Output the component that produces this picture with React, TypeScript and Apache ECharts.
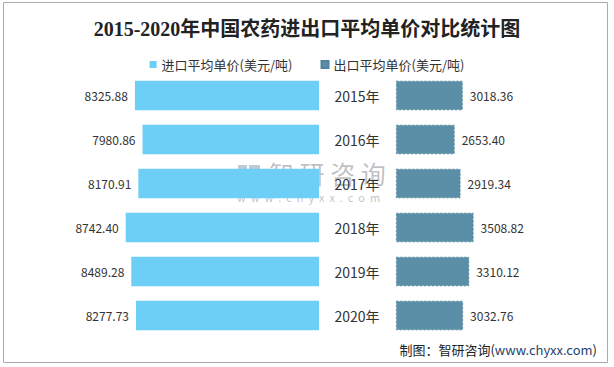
import React, { useEffect, useRef } from "react";
import * as echarts from "echarts";

const years = ["2015年", "2016年", "2017年", "2018年", "2019年", "2020年"];
const importPrice = [8325.88, 7980.86, 8170.91, 8742.4, 8489.28, 8277.73];
const exportPrice = [3018.36, 2653.4, 2919.34, 3508.82, 3310.12, 3032.76];
const seriesNames = ["进口平均单价(美元/吨)", "出口平均单价(美元/吨)"];

export default function App() {
  const ref = useRef<HTMLDivElement>(null);
  useEffect(() => {
    document.body.style.margin = "0";
    const chart = echarts.init(ref.current!, null, { renderer: "svg" });
    const sans = "'Noto Sans CJK SC', 'Open Sans', sans-serif";
    const gridTop = 73.5;
    const gridH = 264;
    const wm = "rgba(110,115,125,0.45)";
    chart.setOption({
      animation: false,
      backgroundColor: "#fff",
      title: {
        text: "2015-2020年中国农药进出口平均单价对比统计图",
        left: "center",
        top: 14,
        textStyle: {
          fontFamily: "'Liberation Serif', 'Noto Sans CJK SC', serif",
          fontSize: 20,
          fontWeight: "bold",
          color: "#222",
        },
      },
      legend: {
        top: 53,
        left: "center",
        itemWidth: 7,
        itemHeight: 7,
        itemGap: 28,
        icon: "rect",
        textStyle: { fontFamily: sans, fontSize: 13, color: "#333" },
        data: seriesNames,
      },
      grid: [
        { left: 120, top: gridTop, width: 199, height: gridH },
        { left: 396, top: gridTop, width: 199, height: gridH },
      ],
      xAxis: [
        { type: "value", gridIndex: 0, min: 0, max: 9000, inverse: true, show: false },
        { type: "value", gridIndex: 1, min: 0, max: 9000, show: false },
      ],
      yAxis: [
        {
          type: "category",
          gridIndex: 0,
          data: years,
          inverse: true,
          position: "right",
          axisLine: { show: false },
          axisTick: { show: false },
          axisLabel: {
            margin: 38,
            align: "center",
            fontFamily: sans,
            fontSize: 14,
            color: "#333",
          },
        },
        {
          type: "category",
          gridIndex: 1,
          data: years,
          inverse: true,
          axisLine: { show: false },
          axisTick: { show: false },
          axisLabel: { show: false },
        },
      ],
      series: [
        {
          name: seriesNames[0],
          type: "bar",
          xAxisIndex: 0,
          yAxisIndex: 0,
          data: importPrice,
          barWidth: 29.5,
          itemStyle: { color: "#6dcff6" },
          label: {
            show: true,
            position: "left",
            distance: 7,
            formatter: (p: any) => p.value.toFixed(2),
            fontFamily: sans,
            fontSize: 12,
            color: "#333",
          },
        },
        {
          name: seriesNames[1],
          type: "bar",
          xAxisIndex: 1,
          yAxisIndex: 1,
          data: exportPrice,
          barWidth: 29.5,
          itemStyle: {
            color: "#5b8fa8",
            borderColor: "#52849c",
            borderWidth: 0.8,
            borderType: [2, 2],
          },
          label: {
            show: true,
            position: "right",
            distance: 7,
            formatter: (p: any) => p.value.toFixed(2),
            fontFamily: sans,
            fontSize: 12,
            color: "#333",
          },
        },
      ],
      graphic: [
        {
          type: "rect",
          shape: { x: 3.5, y: 2.5, width: 604, height: 360 },
          style: { fill: "none", stroke: "#aaa", lineWidth: 1 },
          silent: true,
        },
        {
          type: "group",
          z: 100,
          silent: true,
          children: [
            { type: "rect", shape: { x: 238, y: 165, width: 9, height: 13 }, style: { fill: "rgba(110,135,170,0.45)" } },
            { type: "rect", shape: { x: 249, y: 165, width: 11, height: 6 }, style: { fill: "rgba(110,135,170,0.45)" } },
            { type: "rect", shape: { x: 253, y: 173, width: 7, height: 5 }, style: { fill: "rgba(110,135,170,0.45)" } },
            {
              type: "text",
              x: 269,
              y: 173,
              style: {
                text: "智 研 咨 询",
                fontFamily: sans,
                fontSize: 25,
                fill: wm,
                verticalAlign: "middle",
              },
            },
            {
              type: "text",
              x: 237,
              y: 197,
              style: {
                text: "w  w  w  .  c  h  y  x  x  .  c  o  m",
                fontFamily: sans,
                fontSize: 11,
                fill: wm,
                verticalAlign: "middle",
              },
            },
          ],
        },
        {
          type: "text",
          right: 17,
          top: 343,
          style: {
            text: "{a|制图：智研咨询(}{b|www.chyxx.com}{a|)}",
            rich: {
              a: { fontFamily: sans, fontSize: 13, fill: "#222", color: "#222" },
              b: { fontFamily: sans, fontSize: 13, fill: "#1f3f6e", color: "#1f3f6e" },
            },
          },
        },
      ],
    });
    return () => chart.dispose();
  }, []);
  return <div ref={ref} style={{ width: 614, height: 367 }} />;
}
